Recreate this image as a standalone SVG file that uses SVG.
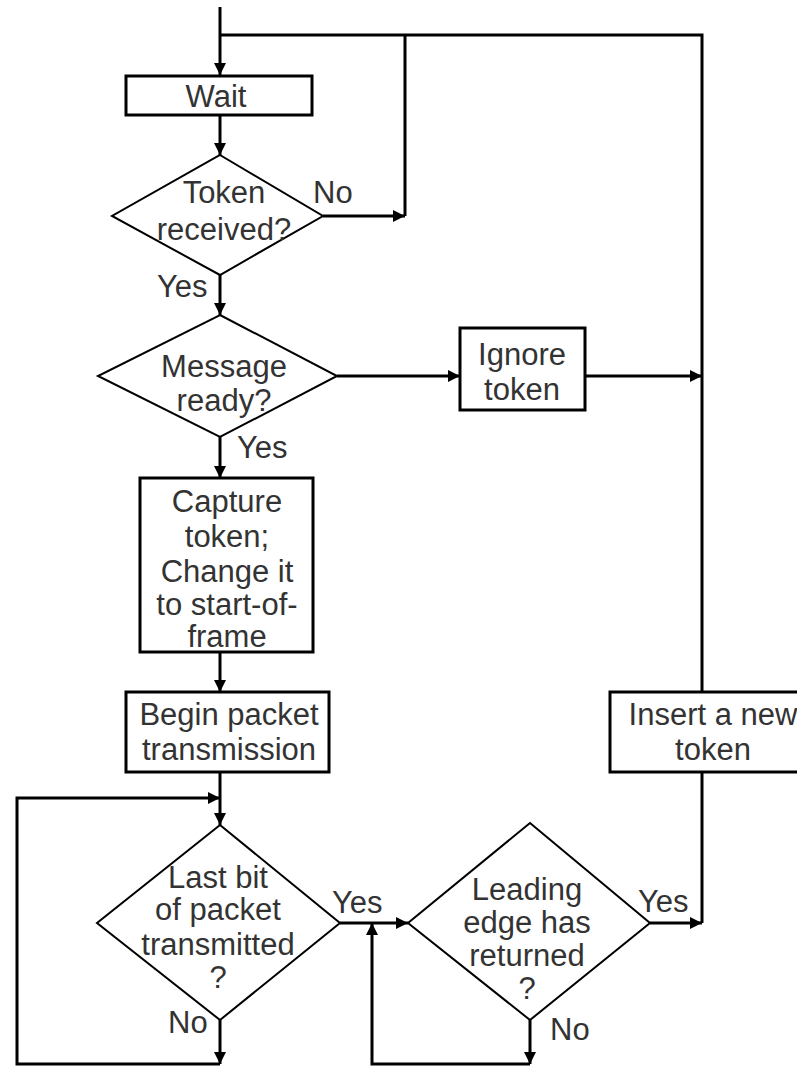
<svg xmlns="http://www.w3.org/2000/svg" width="797" height="1066" viewBox="0 0 797 1066">
<style>
.box{fill:#fff;stroke:#000;stroke-width:3}
.dia{fill:#fff;stroke:#000;stroke-width:2}
.con{fill:none;stroke:#000;stroke-width:3}
text{font-family:"Liberation Sans",Arial,sans-serif;font-size:31px;fill:#333}
.c{text-anchor:middle}
</style>
<defs>
<marker id="arr" viewBox="0 0 10 10" refX="10" refY="5" markerUnits="userSpaceOnUse" markerWidth="12" markerHeight="13" orient="auto">
<path d="M0,0 L10,5 L0,10 Z" fill="#000"/>
</marker>
</defs>
<g id="connectors">
<path class="con" d="M220,7 V75" marker-end="url(#arr)"/>
<path class="con" d="M220,115 V155" marker-end="url(#arr)"/>
<path class="con" d="M323,216 H405" marker-end="url(#arr)"/>
<path class="con" d="M405,216 V35"/>
<path class="con" d="M702,692 V35 H220"/>
<path class="con" d="M220,275 V315" marker-end="url(#arr)"/>
<path class="con" d="M337,376 H460" marker-end="url(#arr)"/>
<path class="con" d="M585,376 H702" marker-end="url(#arr)"/>
<path class="con" d="M220,437 V478" marker-end="url(#arr)"/>
<path class="con" d="M220,652 V692" marker-end="url(#arr)"/>
<path class="con" d="M220,772 V825" marker-end="url(#arr)"/>
<path class="con" d="M220,1020 V1064" marker-end="url(#arr)"/>
<path class="con" d="M220,1064 H17 V798 H220" marker-end="url(#arr)"/>
<path class="con" d="M340,923 H408" marker-end="url(#arr)"/>
<path class="con" d="M530,1020 V1064" marker-end="url(#arr)"/>
<path class="con" d="M530,1064 H372 V923" marker-end="url(#arr)"/>
<path class="con" d="M650,923 H702" marker-end="url(#arr)"/>
<path class="con" d="M702,923 V772"/>
</g>
<g id="wait">
<rect class="box" x="126" y="76" width="186" height="39"/>
<text class="c" x="216" y="107">Wait</text>
</g>
<g id="token-received">
<polygon class="dia" points="220,155 323,216 220,275 112,216"/>
<text class="c" x="224" y="203">Token</text>
<text class="c" x="224" y="240">received?</text>
<text x="313" y="203">No</text>
<text x="157" y="297">Yes</text>
</g>
<g id="message-ready">
<polygon class="dia" points="220,315 337,376 220,437 98,376"/>
<text class="c" x="224" y="377">Message</text>
<text class="c" x="224" y="411">ready?</text>
<text x="237" y="458">Yes</text>
</g>
<g id="ignore-token">
<rect class="box" x="460" y="328" width="125" height="82"/>
<text class="c" x="522" y="365">Ignore</text>
<text class="c" x="522" y="400">token</text>
</g>
<g id="capture-token">
<rect class="box" x="140" y="478" width="173" height="174"/>
<text class="c" x="227" y="512">Capture</text>
<text class="c" x="227" y="547">token;</text>
<text class="c" x="227" y="582">Change it</text>
<text class="c" x="227" y="615">to start-of-</text>
<text class="c" x="227" y="647">frame</text>
</g>
<g id="begin-packet">
<rect class="box" x="126" y="692" width="203" height="80"/>
<text class="c" x="229" y="725">Begin packet</text>
<text class="c" x="229" y="760">transmission</text>
</g>
<g id="insert-token">
<rect class="box" x="610" y="692" width="206" height="80"/>
<text class="c" x="713" y="725">Insert a new</text>
<text class="c" x="713" y="760">token</text>
</g>
<g id="last-bit">
<polygon class="dia" points="220,825 340,923 220,1020 97,923"/>
<text class="c" x="218" y="888">Last bit</text>
<text class="c" x="218" y="920">of packet</text>
<text class="c" x="218" y="955">transmitted</text>
<text class="c" x="218" y="988">?</text>
<text x="332" y="913">Yes</text>
<text x="168" y="1033">No</text>
</g>
<g id="leading-edge">
<polygon class="dia" points="530,823 650,923 530,1020 408,923"/>
<text class="c" x="527" y="900">Leading</text>
<text class="c" x="527" y="933">edge has</text>
<text class="c" x="527" y="966">returned</text>
<text class="c" x="527" y="999">?</text>
<text x="638" y="912">Yes</text>
<text x="550" y="1040">No</text>
</g>
</svg>
